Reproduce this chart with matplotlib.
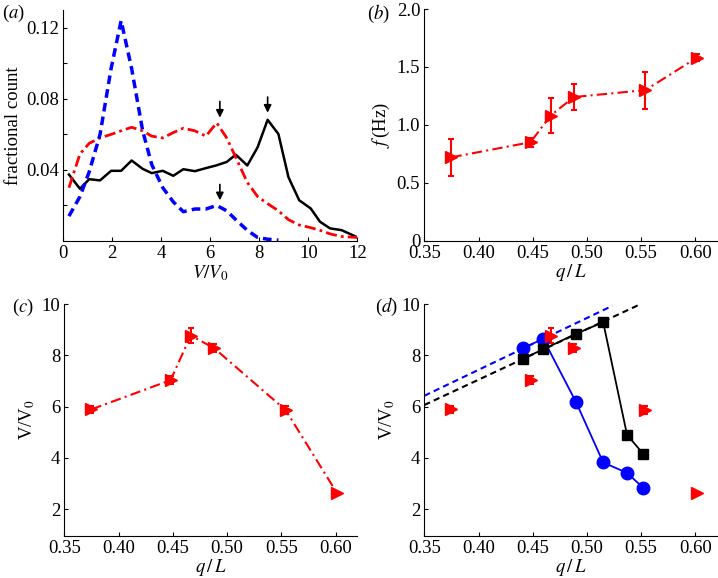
import matplotlib
matplotlib.use("Agg")
import matplotlib.pyplot as plt
import numpy as np

plt.rcParams['font.family'] = ['Liberation Serif', 'DejaVu Serif']
plt.rcParams['mathtext.fontset'] = 'stix'
plt.rcParams['font.size'] = 13.5

# ---------- data: panel (a) ----------
v_bins = [0.23, 0.68, 1.06, 1.50, 1.95, 2.36, 2.79, 3.24, 3.61, 4.06, 4.49, 4.90, 5.37, 5.82,
          6.26, 6.67, 7.04, 7.51, 7.93, 8.34, 8.78, 9.19, 9.63, 10.10, 10.48, 10.89, 11.36, 12.0]
count_black = [0.0374, 0.0294, 0.0348, 0.0341, 0.0395, 0.0395, 0.0453, 0.0406, 0.0382, 0.0395,
               0.0367, 0.0404, 0.0393, 0.0410, 0.0426, 0.0445, 0.0486, 0.0425, 0.0527, 0.0682,
               0.0602, 0.0359, 0.0229, 0.0183, 0.0108, 0.0071, 0.0061, 0.0021]
count_red = [0.030, 0.049, 0.055, 0.058, 0.060, 0.062, 0.064, 0.062, 0.059, 0.058,
             0.061, 0.0635, 0.062, 0.059, 0.0665, 0.058, 0.047, 0.033, 0.025, 0.021,
             0.017, 0.012, 0.009, 0.0075, 0.006, 0.004, 0.0025, 0.002]
count_blue = [0.014, 0.025, 0.039, 0.060, 0.097, 0.124, 0.097, 0.062, 0.043, 0.030,
              0.022, 0.0165, 0.018, 0.018, 0.020, 0.017, 0.012, 0.006, 0.002, 0.001, 0.0005]
arrow_x = [6.39, 8.34, 6.39]
arrow_top = [0.0785, 0.0810, 0.0318]
arrow_tip = [0.0694, 0.0722, 0.0229]

# ---------- data: panels (b), (c), (d) ----------
qL = [0.375, 0.448, 0.4665, 0.488, 0.554, 0.6015]
freq = [0.72, 0.85, 1.08, 1.24, 1.30, 1.58]
freq_err = [0.16, 0.04, 0.15, 0.11, 0.16, 0.03]
vel = [5.89, 7.03, 8.77, 8.28, 5.86, 2.61]
vel_err = [0.15, 0.15, 0.30, 0.15, 0.15, 0.05]

qL_sim = [0.441, 0.4597, 0.490, 0.515, 0.537, 0.552]
vel_blue = [8.28, 8.64, 6.17, 3.82, 3.41, 2.83]
vel_black = [7.87, 8.23, 8.84, 9.29, 4.90, 4.15]
fit_blue_x = [0.35, 0.5235]
fit_blue_y = [6.42, 9.93]
fit_black_x = [0.35, 0.5497]
fit_black_y = [6.06, 10.0]

RED = '#ff0000'
BLUE = '#0000ff'

fig = plt.figure(figsize=(7.18, 5.78), dpi=100)
W, H = 718, 578

def make_ax(l, r, b, t):
    ax = fig.add_axes([l / W, 1 - b / H, (r - l) / W, (b - t) / H])
    for s in ('top', 'right'):
        ax.spines[s].set_visible(False)
    ax.tick_params(direction='in', length=3, width=0.8, top=False, right=False, pad=3)
    return ax

# (a)
axa = make_ax(63.3, 357.3, 241, 10)
axa.plot(v_bins, count_black, color='black', lw=1.8)
axa.plot(v_bins, count_red, color=RED, lw=2.0, ls=(0, (4, 1.5, 1, 1.5)))
axa.plot(v_bins[:len(count_blue)], count_blue, color=BLUE, lw=2.5, ls=(0, (2.5, 1.5)))
for x, y0, y1 in zip(arrow_x, arrow_top, arrow_tip):
    axa.annotate('', xy=(x, y1), xytext=(x, y0),
                 arrowprops=dict(arrowstyle='-|>', color='black', lw=1.2, mutation_scale=11,
                                 shrinkA=0, shrinkB=0))
axa.set_xlim(0, 12)
axa.set_ylim(0, 0.13)
axa.set_xticks([0, 2, 4, 6, 8, 10, 12])
axa.set_yticks([0.02, 0.04, 0.06, 0.08, 0.10, 0.12])
axa.set_yticklabels(['', '0.04', '', '0.08', '', '0.12'])
axa.set_xlabel('$V/V_0$', labelpad=1)
axa.set_ylabel('fractional count', labelpad=3)

ticks_q = [0.35, 0.40, 0.45, 0.50, 0.55, 0.60]
ticklabels_q = ['0.35', '0.40', '0.45', '0.50', '0.55', '0.60']

# (b)
axb = make_ax(424.3, 717, 240.7, 9)
axb.errorbar(qL, freq, yerr=freq_err, color=RED, ecolor=RED, lw=1.5, ls=(0, (5, 2, 1, 2)),
             marker='>', ms=8, capsize=2.5, elinewidth=1.5, capthick=1.5)
axb.set_xlim(0.35, 0.62)
axb.set_ylim(0, 2.0)
axb.set_xticks(ticks_q)
axb.set_xticklabels(ticklabels_q)
axb.set_yticks([0, 0.5, 1.0, 1.5, 2.0])
axb.set_yticklabels(['0', '0.5', '1.0', '1.5', '2.0'])
axb.set_xlabel('$q\\,/\\,L$', labelpad=0)
axb.set_ylabel('$f\\,$(Hz)', labelpad=3)

# (c)
axc = make_ax(64.3, 357.3, 536, 304)
axc.errorbar(qL, vel, yerr=vel_err, color=RED, ecolor=RED, lw=1.5, ls=(0, (5, 2, 1, 2)),
             marker='>', ms=8, capsize=2.5, elinewidth=1.5, capthick=1.5)
axc.set_xlim(0.35, 0.62)
axc.set_ylim(0.95, 10)
axc.set_xticks(ticks_q)
axc.set_xticklabels(ticklabels_q)
axc.set_yticks([2, 4, 6, 8, 10])
axc.set_xlabel('$q\\,/\\,L$', labelpad=0)
axc.set_ylabel('V/V$_{\\mathrm{0}}$', labelpad=3)

# (d)
axd = make_ax(424.3, 717, 536, 304)
axd.plot(fit_blue_x, fit_blue_y, color=BLUE, lw=1.5, ls=(0, (3, 2)))
axd.plot(fit_black_x, fit_black_y, color='black', lw=1.5, ls=(0, (3, 2)))
axd.errorbar(qL, vel, yerr=vel_err, color=RED, ecolor=RED, ls='none',
             marker='>', ms=8, capsize=2.5, elinewidth=1.5, capthick=1.5)
axd.plot(qL_sim, vel_blue, color=BLUE, lw=1.3, marker='o', ms=9)
axd.plot(qL_sim, vel_black, color='black', lw=1.3, marker='s', ms=6.5)
axd.set_xlim(0.35, 0.62)
axd.set_ylim(0.95, 10)
axd.set_xticks(ticks_q)
axd.set_xticklabels(ticklabels_q)
axd.set_yticks([2, 4, 6, 8, 10])
axd.set_xlabel('$q\\,/\\,L$', labelpad=0)
axd.set_ylabel('V/V$_{\\mathrm{0}}$', labelpad=3)

# panel labels
for lab, x, y in [('(a)', 2, 13), ('(b)', 367, 14), ('(c)', 12, 307), ('(d)', 375, 307)]:
    fig.text(x / W, 1 - y / H, lab[0] + '$' + lab[1] + '$' + lab[2], ha='left', va='center', fontsize=13.5)

fig.savefig('out.png', dpi=100)
